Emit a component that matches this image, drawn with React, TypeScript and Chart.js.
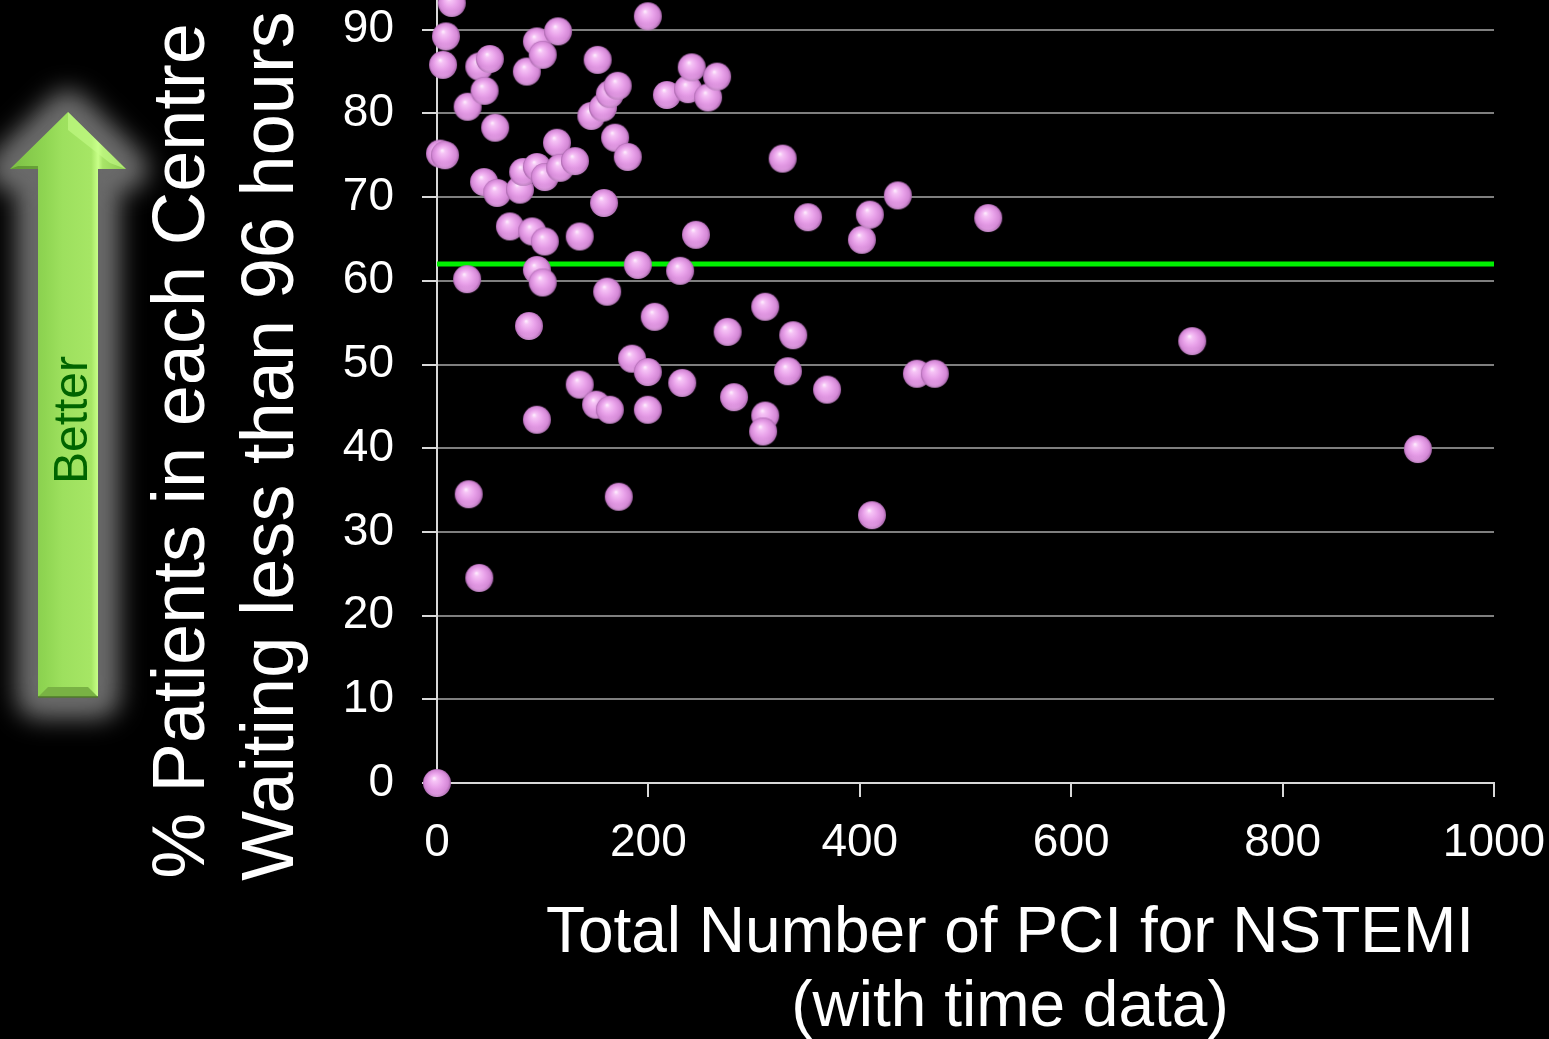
import React, { useEffect, useRef } from "react";
import { Chart, registerables } from "chart.js";

Chart.register(...registerables);

// ---- Data ----
const pciCounts: number[] = [
  0, 14, 8.5, 5.7, 2.8, 7.6, 29, 40, 50, 45, 55, 44.5, 57, 28.5, 30, 40, 69, 78.5, 81.5, 94.5,
  85, 94.5, 100, 114.5, 90, 94.5, 100, 102, 102, 113.5, 116.5, 130.5, 87, 94.5, 135, 135, 150.5,
  163.5, 152, 146, 157, 163.5, 171, 168.5, 180.5, 158, 199.5, 217.5, 237.5, 241, 256.5, 265, 245,
  190, 230, 161, 206, 275, 310.5, 337, 184.5, 199.5, 232, 281, 332, 199.5, 310.5, 308.5, 172, 327,
  351, 402, 409.5, 436, 369, 454, 471, 521.5, 714.5, 928, 411.5,
];
const pctUnder96h: number[] = [
  0, 93.2, 89.2, 85.8, 75.2, 75.0, 80.8, 85.6, 86.5, 82.7, 78.3, 71.8, 70.5, 60.2, 34.5, 24.5, 66.5,
  70.9, 73.0, 73.6, 85.0, 88.6, 87.0, 89.8, 65.9, 61.3, 59.8, 64.7, 72.4, 76.5, 73.5, 74.3, 54.6,
  43.4, 65.3, 47.6, 45.2, 44.6, 86.4, 79.7, 80.7, 82.3, 83.3, 77.1, 74.8, 69.3, 91.6, 82.2, 82.9,
  85.5, 81.9, 84.4, 65.5, 61.9, 61.2, 58.7, 55.7, 53.9, 56.9, 53.5, 50.7, 49.1, 47.8, 46.1, 49.2,
  44.6, 43.9, 42.0, 34.2, 74.6, 67.6, 64.9, 67.9, 70.2, 47.0, 48.9, 48.9, 67.5, 52.8, 39.9, 32.0,
];
const targetPct = 62;
const targetRange: number[] = [0, 1000];
const xTicksMax = 1000;
const yTicksMax = 100;

const yTitleLines = ["% Patients in each Centre", "Waiting less than 96 hours"];
const xTitleLines = ["Total Number of PCI for NSTEMI", "(with time data)"];
const arrowLabel = "Better";

const FONT = '"Liberation Sans", Arial, sans-serif';
const OFFSET = 80; // canvas shifted up by this many px
const CW = 1549;
const CH = 1039 + OFFSET;

function makeSphere(): HTMLCanvasElement {
  const c = document.createElement("canvas");
  c.width = 30;
  c.height = 30;
  const g = c.getContext("2d")!;
  const grad = g.createRadialGradient(12, 10, 0, 15, 15, 14.5);
  grad.addColorStop(0, "#fff4ff");
  grad.addColorStop(0.18, "#f6c4f6");
  grad.addColorStop(0.5, "#e9a2ea");
  grad.addColorStop(0.82, "#d488d6");
  grad.addColorStop(1, "#9a5c9e");
  g.fillStyle = grad;
  g.beginPath();
  g.arc(15, 15, 14, 0, Math.PI * 2);
  g.fill();
  const g2 = g.createLinearGradient(0, 22, 0, 29);
  g2.addColorStop(0, "rgba(255,200,255,0)");
  g2.addColorStop(1, "rgba(255,210,255,0.35)");
  g.fillStyle = g2;
  g.beginPath();
  g.arc(15, 15, 14, 0.15 * Math.PI, 0.85 * Math.PI);
  g.fill();
  return c;
}

const decorPlugin = {
  id: "decor",
  beforeDraw(chart: any) {
    const ctx = chart.ctx as CanvasRenderingContext2D;
    ctx.save();
    ctx.fillStyle = "#000";
    ctx.fillRect(0, 0, chart.width, chart.height);
    ctx.restore();
  },
  afterDraw(chart: any) {
    const ctx = chart.ctx as CanvasRenderingContext2D;
    const o = OFFSET;
    // ---- Arrow ----
    const path = () => {
      ctx.beginPath();
      ctx.moveTo(68, 112 + o);
      ctx.lineTo(126, 169 + o);
      ctx.lineTo(98, 169 + o);
      ctx.lineTo(98, 697 + o);
      ctx.lineTo(38, 697 + o);
      ctx.lineTo(38, 169 + o);
      ctx.lineTo(10, 169 + o);
      ctx.closePath();
    };
    // soft halo
    ctx.save();
    ctx.filter = "blur(12px)";
    ctx.fillStyle = "#6a6a6a";
    ctx.strokeStyle = "#6a6a6a";
    ctx.lineJoin = "round";
    ctx.lineWidth = 44;
    path();
    ctx.fill();
    ctx.stroke();
    ctx.restore();

    ctx.save();
    const lg = ctx.createLinearGradient(10, 0, 126, 0);
    lg.addColorStop(0, "#7cbf45");
    lg.addColorStop(0.3, "#8fd552");
    lg.addColorStop(0.45, "#9de05e");
    lg.addColorStop(0.7, "#a6e665");
    lg.addColorStop(0.76, "#c8ff88");
    lg.addColorStop(0.8, "#a8e468");
    lg.addColorStop(1, "#8ccc50");
    ctx.fillStyle = lg;
    path();
    ctx.fill();
    // bottom bevel
    ctx.fillStyle = "#79b244";
    ctx.beginPath();
    ctx.moveTo(38, 697 + o);
    ctx.lineTo(98, 697 + o);
    ctx.lineTo(88, 687 + o);
    ctx.lineTo(48, 687 + o);
    ctx.closePath();
    ctx.fill();
    ctx.strokeStyle = "#4f7a2a";
    ctx.lineWidth = 1.5;
    ctx.beginPath();
    ctx.moveTo(38, 697 + o);
    ctx.lineTo(98, 697 + o);
    ctx.stroke();
    // head bevel highlights
    ctx.fillStyle = "rgba(200,255,140,0.55)";
    ctx.beginPath();
    ctx.moveTo(68, 112 + o);
    ctx.lineTo(126, 169 + o);
    ctx.lineTo(110, 163 + o);
    ctx.lineTo(68, 130 + o);
    ctx.closePath();
    ctx.fill();
    ctx.fillStyle = "rgba(80,130,40,0.6)";
    ctx.beginPath();
    ctx.moveTo(10, 169 + o);
    ctx.lineTo(38, 169 + o);
    ctx.lineTo(38, 166 + o);
    ctx.lineTo(18, 166 + o);
    ctx.closePath();
    ctx.fill();
    ctx.restore();

    // "Better"
    ctx.save();
    ctx.translate(87, 420 + o);
    ctx.rotate(-Math.PI / 2);
    ctx.fillStyle = "#006400";
    ctx.font = `48px ${FONT}`;
    ctx.textAlign = "center";
    ctx.textBaseline = "alphabetic";
    ctx.fillText(arrowLabel, 0, 0);
    ctx.restore();

    // ---- Y title ----
    ctx.save();
    ctx.fillStyle = "#ffffff";
    ctx.font = `74px ${FONT}`;
    ctx.textAlign = "center";
    ctx.textBaseline = "alphabetic";
    ctx.save();
    ctx.translate(204, 451 + o);
    ctx.rotate(-Math.PI / 2);
    ctx.fillText(yTitleLines[0], 0, 0);
    ctx.restore();
    ctx.save();
    ctx.translate(293, 446 + o);
    ctx.rotate(-Math.PI / 2);
    ctx.fillText(yTitleLines[1], 0, 0);
    ctx.restore();
    ctx.restore();

    // ---- X title ----
    ctx.save();
    ctx.fillStyle = "#ffffff";
    ctx.font = `64px ${FONT}`;
    ctx.textAlign = "center";
    ctx.textBaseline = "alphabetic";
    ctx.fillText(xTitleLines[0], 1010, 952 + o);
    ctx.fillText(xTitleLines[1], 1010, 1026 + o);
    ctx.restore();
  },
};

export default function App() {
  const ref = useRef<HTMLCanvasElement | null>(null);
  useEffect(() => {
    if (!ref.current) return;
    const sphere = makeSphere();
    const points = pciCounts.map((x, i) => ({ x, y: pctUnder96h[i] }));
    const target = targetRange.map((x) => ({ x, y: targetPct }));
    const chart = new Chart(ref.current, {
      type: "scatter",
      data: {
        datasets: [
          {
            label: "Centres",
            data: points,
            pointStyle: sphere as any,
            pointRadius: 14,
            clip: false as any,
          },
          {
            type: "line" as any,
            label: "Target",
            data: target,
            borderColor: "#00f000",
            borderWidth: 5,
            pointRadius: 0,
            showLine: true,
            fill: false,
          },
        ],
      },
      options: {
        responsive: false,
        animation: false,
        devicePixelRatio: 1,
        layout: { padding: { top: 26, right: 55, left: 0, bottom: 0 } },
        plugins: { legend: { display: false }, tooltip: { enabled: false } },
        scales: {
          x: {
            type: "linear",
            min: 0,
            max: xTicksMax,
            afterFit: (s: any) => {
              s.height = CH - 863;
              s.paddingLeft = 0;
              s.paddingRight = 0;
            },
            ticks: {
              stepSize: 200,
              color: "#ffffff",
              font: { family: FONT, size: 46 },
              padding: 19,
              maxRotation: 0,
              callback: (v: any) => String(v),
            },
            grid: {
              drawOnChartArea: false,
              drawTicks: true,
              tickLength: 14,
              color: "#d9d9d9",
              lineWidth: 2,
            },
            border: { color: "#d9d9d9", width: 2 },
          },
          y: {
            type: "linear",
            min: 0,
            max: yTicksMax,
            afterFit: (s: any) => {
              s.width = 437;
              s.paddingTop = 0;
              s.paddingBottom = 0;
            },
            ticks: {
              stepSize: 10,
              color: "#ffffff",
              font: { family: FONT, size: 46 },
              padding: 28,
              callback: (v: any) => String(v),
            },
            grid: {
              color: "#7f7f7f",
              lineWidth: 2,
              tickLength: 15,
              tickColor: "#d9d9d9",
            },
            border: { color: "#d9d9d9", width: 2 },
          },
        },
      },
      plugins: [decorPlugin],
    });
    return () => chart.destroy();
  }, []);

  return (
    <div
      style={{
        position: "fixed",
        left: 0,
        top: 0,
        width: CW,
        height: 1039,
        overflow: "hidden",
        background: "#000",
      }}
    >
      <canvas
        ref={ref}
        width={CW}
        height={CH}
        style={{ position: "absolute", left: 0, top: -OFFSET, width: CW, height: CH }}
      />
    </div>
  );
}
